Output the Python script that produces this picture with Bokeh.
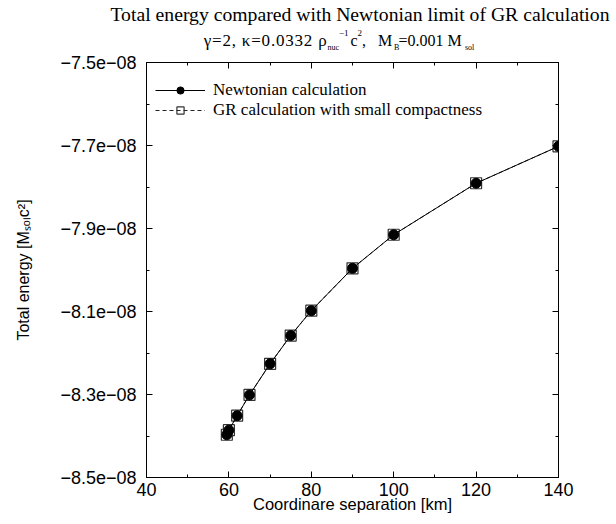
from bokeh.plotting import figure
from bokeh.models import (FixedTicker, LinearAxis, CustomJSTickFormatter, Div,
                          Legend, LegendItem, Range1d)
from bokeh.layouts import column
from bokeh.embed import file_html
from bokeh.resources import INLINE

# ---------------- data ----------------
separation_km = [59.5, 60, 62, 65, 70, 75, 80, 90, 100, 120, 140]
energy_newtonian = [-8.397e-8, -8.386e-8, -8.351e-8, -8.301e-8, -8.226e-8, -8.158e-8,
                    -8.098e-8, -7.996e-8, -7.915e-8, -7.791e-8, -7.702e-8]
energy_gr = [-8.397e-8, -8.386e-8, -8.351e-8, -8.301e-8, -8.226e-8, -8.158e-8,
             -8.098e-8, -7.996e-8, -7.915e-8, -7.791e-8, -7.702e-8]

x_major_ticks = [40, 60, 80, 100, 120, 140]
x_minor_ticks = [50, 70, 90, 110, 130]
y_major_ticks = [-8.5e-8, -8.3e-8, -8.1e-8, -7.9e-8, -7.7e-8, -7.5e-8]
y_minor_ticks = [-8.4e-8, -8.2e-8, -8.0e-8, -7.8e-8, -7.6e-8]
y_tick_labels = ["\u22128.5e\u221208", "\u22128.3e\u221208", "\u22128.1e\u221208",
                 "\u22127.9e\u221208", "\u22127.7e\u221208", "\u22127.5e\u221208"]

TITLE = "Total energy compared with Newtonian limit of GR calculation"
X_LABEL = "Coordinare separation [km]"
Y_LABEL = "Total energy [M\u209b\u2092\u2097c\u00b2]"

SERIF = "Liberation Serif"
SANS = "Liberation Sans"

# ---------------- title block (HTML with sub/superscripts) ----------------
def span(text, size, left=None, right=None, top=0.0, extra=""):
    pos = f"left:{left}px;" if left is not None else f"right:{right}px;"
    return (f'<span style="position:absolute;{pos}top:{top}px;white-space:nowrap;'
            f"font-family:'{SERIF}';font-size:{size}px;line-height:{size}px;color:black;{extra}\">"
            f"{text}</span>")

main_top, sub_top, sup_top = 33.1, 43.8, 28.5
head_html = (
    '<div style="position:relative;width:616px;height:54px;margin:0;padding:0;">'
    f'<div style="position:absolute;left:105px;top:5px;width:510px;text-align:center;'
    f"white-space:nowrap;font-family:'{SERIF}';font-size:19.7px;line-height:19.7px;color:black;\">"
    f"{TITLE}</div>"
    + span("\u03b3=2, \u03ba=0.0332 \u03c1", 17, right=616 - 327.5, top=32.3,
           extra="letter-spacing:0.8px;")
    + span("nuc", 8, left=327.5, top=sub_top)
    + span("\u22121", 9, left=339, top=sup_top)
    + span("c", 16, left=350.5, top=main_top)
    + span("2", 9, left=357.5, top=sup_top)
    + span(",", 16, left=362, top=main_top)
    + span("M", 16, left=378, top=main_top)
    + span("B", 8, left=394, top=sub_top)
    + span("=0.001 M", 16, left=398.5, top=main_top)
    + span("sol", 8, left=465, top=sub_top)
    + "</div>"
)
head = Div(text=head_html, width=616, height=54, margin=0)

# ---------------- figure ----------------
p = figure(width=600, height=470, x_range=Range1d(40, 140), y_range=Range1d(-8.5e-8, -7.5e-8),
           output_backend="svg", toolbar_location=None, margin=0,
           min_border_left=146, min_border_right=42, min_border_top=8, min_border_bottom=47)
p.grid.visible = False
p.outline_line_color = "black"
p.background_fill_color = "white"
p.border_fill_color = "white"

y_fmt = CustomJSTickFormatter(args=dict(tv=y_major_ticks, tl=y_tick_labels), code="""
const i = tv.findIndex(t => Math.abs(t - tick) < 1e-12);
return i >= 0 ? tl[i] : '';
""")
blank = CustomJSTickFormatter(code="return '';")


def style_axis(ax, ticks, minor, formatter, font_size="18px", standoff=10):
    ax.ticker = FixedTicker(ticks=ticks, minor_ticks=minor)
    ax.formatter = formatter
    ax.axis_line_color = "black"
    ax.axis_line_width = 1
    ax.major_tick_line_color = "black"
    ax.minor_tick_line_color = "black"
    ax.major_tick_in = 6
    ax.major_tick_out = 0
    ax.minor_tick_in = 3
    ax.minor_tick_out = 0
    ax.major_label_text_font = SANS
    ax.major_label_text_font_size = font_size
    ax.major_label_text_color = "black"
    ax.major_label_standoff = standoff
    ax.axis_label_text_font = SANS
    ax.axis_label_text_font_style = "normal"
    ax.axis_label_text_color = "black"


xa = p.xaxis[0]
style_axis(xa, x_major_ticks, x_minor_ticks, CustomJSTickFormatter(code="return tick.toFixed(0);"),
           standoff=5)
xa.axis_label = X_LABEL
xa.axis_label_text_font_size = "16.5px"
xa.axis_label_standoff = -4

ya = p.yaxis[0]
style_axis(ya, y_major_ticks, y_minor_ticks, y_fmt, standoff=10)
ya.axis_label = Y_LABEL
ya.axis_label_text_font_size = "16px"
ya.axis_label_standoff = 25

top_ax = LinearAxis()
style_axis(top_ax, x_major_ticks, x_minor_ticks, blank, font_size="1px", standoff=0)
p.add_layout(top_ax, "above")
right_ax = LinearAxis()
style_axis(right_ax, y_major_ticks, y_minor_ticks, blank, font_size="1px", standoff=0)
p.add_layout(right_ax, "right")

# ---------------- series ----------------
gr_line = p.line(separation_km, energy_gr, line_color="#222222", line_width=1, line_dash="4 3")
gr_sq = p.scatter(separation_km, energy_gr, marker="square", size=11, fill_color=None,
                  line_color="#333333", line_width=1.2)
nw_line = p.line(separation_km, energy_newtonian, line_color="black", line_width=1)
nw_pt = p.scatter(separation_km, energy_newtonian, marker="circle", size=10,
                  fill_color="black", line_color="black")

legend = Legend(items=[LegendItem(label="Newtonian calculation", renderers=[nw_line, nw_pt]),
                       LegendItem(label="GR calculation with small compactness",
                                  renderers=[gr_line, gr_sq])],
                location=(9, 357), glyph_width=50, glyph_height=18, label_height=18,
                spacing=0, padding=0, margin=0, border_line_color=None,
                background_fill_alpha=0, label_text_font=SERIF, label_text_color="black",
                label_text_font_size="17px", label_standoff=8)
p.add_layout(legend)

layout = column(head, p, spacing=0)
open("out.html", "w").write(file_html(layout, INLINE))
